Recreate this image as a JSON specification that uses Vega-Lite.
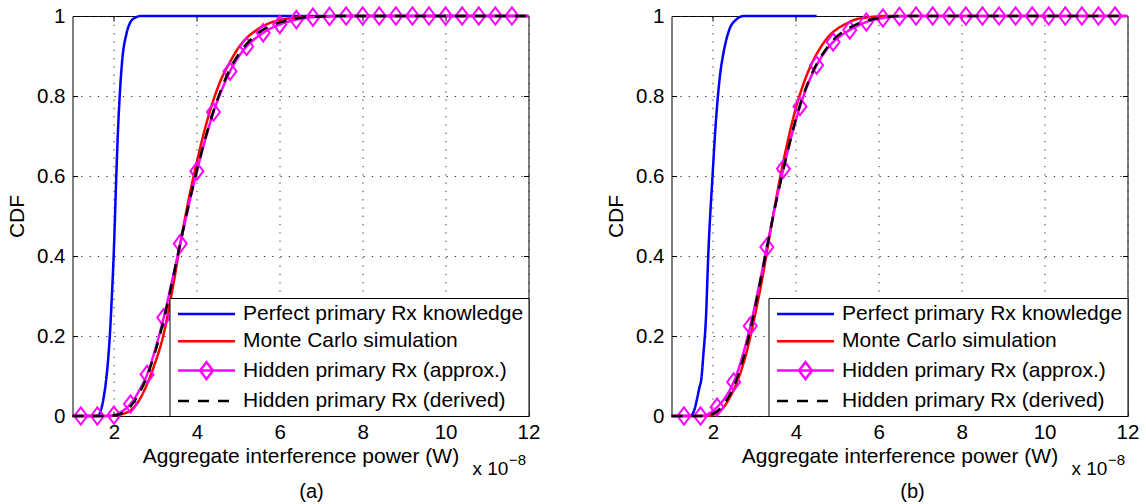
{
"$schema": "https://vega.github.io/schema/vega-lite/v6.json",
"background": "white",
"padding": {"left": 5.5, "top": 2, "right": 0, "bottom": 0},
"bounds": "flush",
"spacing": 143,
"resolve": {"scale": {"color": "independent", "strokeDash": "independent"}, "legend": {"color": "independent", "strokeDash": "independent"}},
"config": {
  "view": {"stroke": "black", "strokeWidth": 1},
  "font": "Liberation Sans",
  "axis": {"labelFont": "Liberation Sans", "labelFontSize": 20.5, "labelColor": "#000", "titleFont": "Liberation Sans", "titleFontSize": 21, "titleFontWeight": "normal", "titleColor": "#000", "tickColor": "#000", "tickWidth": 1, "domain": false, "gridColor": "#333", "gridDash": [1.3, 7], "gridWidth": 1, "gridOpacity": 1, "labelFlush": false, "labelOverlap": false},
  "legend": {"orient": "bottom-right", "offset": 0, "padding": 4.5, "strokeColor": "black", "fillColor": "white", "labelFont": "Liberation Sans", "labelFontSize": 21, "labelColor": "#000", "labelLimit": 500, "labelOffset": 46, "symbolSize": 400, "symbolStrokeWidth": 2.5, "symbolType": "M-0.75,0L4.95,0", "rowPadding": 5.3},
  "title": {"font": "Liberation Sans", "fontSize": 20, "fontWeight": "normal", "color": "#000"}
},
"datasets": {
  "a": [
    {"s":"Perfect primary Rx knowledge","x":1.0,"y":0},{"s":"Perfect primary Rx knowledge","x":1.6,"y":0},{"s":"Perfect primary Rx knowledge","x":1.65,"y":0.005},{"s":"Perfect primary Rx knowledge","x":1.7,"y":0.02},{"s":"Perfect primary Rx knowledge","x":1.75,"y":0.045},{"s":"Perfect primary Rx knowledge","x":1.8,"y":0.08},{"s":"Perfect primary Rx knowledge","x":1.85,"y":0.13},{"s":"Perfect primary Rx knowledge","x":1.9,"y":0.2},{"s":"Perfect primary Rx knowledge","x":1.95,"y":0.3},{"s":"Perfect primary Rx knowledge","x":2.0,"y":0.42},{"s":"Perfect primary Rx knowledge","x":2.05,"y":0.58},{"s":"Perfect primary Rx knowledge","x":2.1,"y":0.72},{"s":"Perfect primary Rx knowledge","x":2.15,"y":0.82},{"s":"Perfect primary Rx knowledge","x":2.2,"y":0.89},{"s":"Perfect primary Rx knowledge","x":2.3,"y":0.955},{"s":"Perfect primary Rx knowledge","x":2.4,"y":0.985},{"s":"Perfect primary Rx knowledge","x":2.5,"y":0.995},{"s":"Perfect primary Rx knowledge","x":2.65,"y":1.0},{"s":"Perfect primary Rx knowledge","x":12,"y":1.0},
    {"s":"Monte Carlo simulation","x":1.0,"y":0},{"s":"Monte Carlo simulation","x":1.9,"y":0},{"s":"Monte Carlo simulation","x":2.0,"y":0.001},{"s":"Monte Carlo simulation","x":2.2,"y":0.005},{"s":"Monte Carlo simulation","x":2.4,"y":0.014},{"s":"Monte Carlo simulation","x":2.6,"y":0.038},{"s":"Monte Carlo simulation","x":2.8,"y":0.08},{"s":"Monte Carlo simulation","x":3.0,"y":0.135},{"s":"Monte Carlo simulation","x":3.2,"y":0.205},{"s":"Monte Carlo simulation","x":3.4,"y":0.31},{"s":"Monte Carlo simulation","x":3.6,"y":0.43},{"s":"Monte Carlo simulation","x":3.8,"y":0.54},{"s":"Monte Carlo simulation","x":4.0,"y":0.635},{"s":"Monte Carlo simulation","x":4.2,"y":0.72},{"s":"Monte Carlo simulation","x":4.4,"y":0.79},{"s":"Monte Carlo simulation","x":4.6,"y":0.845},{"s":"Monte Carlo simulation","x":4.8,"y":0.885},{"s":"Monte Carlo simulation","x":5.0,"y":0.92},{"s":"Monte Carlo simulation","x":5.2,"y":0.945},{"s":"Monte Carlo simulation","x":5.4,"y":0.962},{"s":"Monte Carlo simulation","x":5.6,"y":0.975},{"s":"Monte Carlo simulation","x":5.8,"y":0.984},{"s":"Monte Carlo simulation","x":6.0,"y":0.99},{"s":"Monte Carlo simulation","x":6.4,"y":0.996},{"s":"Monte Carlo simulation","x":7.0,"y":0.999},{"s":"Monte Carlo simulation","x":7.5,"y":1.0},{"s":"Monte Carlo simulation","x":12,"y":1.0},
    {"s":"Hidden primary Rx (approx.)","x":1.0,"y":0},{"s":"Hidden primary Rx (approx.)","x":1.2,"y":0},{"s":"Hidden primary Rx (approx.)","x":1.6,"y":0},{"s":"Hidden primary Rx (approx.)","x":1.8,"y":0},{"s":"Hidden primary Rx (approx.)","x":2.0,"y":0.002},{"s":"Hidden primary Rx (approx.)","x":2.2,"y":0.012},{"s":"Hidden primary Rx (approx.)","x":2.4,"y":0.03},{"s":"Hidden primary Rx (approx.)","x":2.6,"y":0.062},{"s":"Hidden primary Rx (approx.)","x":2.8,"y":0.104},{"s":"Hidden primary Rx (approx.)","x":3.0,"y":0.168},{"s":"Hidden primary Rx (approx.)","x":3.2,"y":0.246},{"s":"Hidden primary Rx (approx.)","x":3.4,"y":0.337},{"s":"Hidden primary Rx (approx.)","x":3.6,"y":0.431},{"s":"Hidden primary Rx (approx.)","x":3.8,"y":0.525},{"s":"Hidden primary Rx (approx.)","x":4.0,"y":0.612},{"s":"Hidden primary Rx (approx.)","x":4.2,"y":0.69},{"s":"Hidden primary Rx (approx.)","x":4.4,"y":0.76},{"s":"Hidden primary Rx (approx.)","x":4.6,"y":0.815},{"s":"Hidden primary Rx (approx.)","x":4.8,"y":0.862},{"s":"Hidden primary Rx (approx.)","x":5.0,"y":0.897},{"s":"Hidden primary Rx (approx.)","x":5.2,"y":0.924},{"s":"Hidden primary Rx (approx.)","x":5.4,"y":0.943},{"s":"Hidden primary Rx (approx.)","x":5.6,"y":0.958},{"s":"Hidden primary Rx (approx.)","x":5.8,"y":0.97},{"s":"Hidden primary Rx (approx.)","x":6.0,"y":0.979},{"s":"Hidden primary Rx (approx.)","x":6.4,"y":0.991},{"s":"Hidden primary Rx (approx.)","x":6.8,"y":0.997},{"s":"Hidden primary Rx (approx.)","x":7.2,"y":0.999},{"s":"Hidden primary Rx (approx.)","x":7.6,"y":1.0},{"s":"Hidden primary Rx (approx.)","x":12,"y":1.0},
    {"s":"Hidden primary Rx (derived)","x":1.0,"y":0},{"s":"Hidden primary Rx (derived)","x":1.9,"y":0},{"s":"Hidden primary Rx (derived)","x":2.0,"y":0.001},{"s":"Hidden primary Rx (derived)","x":2.2,"y":0.008},{"s":"Hidden primary Rx (derived)","x":2.4,"y":0.024},{"s":"Hidden primary Rx (derived)","x":2.6,"y":0.055},{"s":"Hidden primary Rx (derived)","x":2.8,"y":0.1},{"s":"Hidden primary Rx (derived)","x":3.0,"y":0.162},{"s":"Hidden primary Rx (derived)","x":3.2,"y":0.24},{"s":"Hidden primary Rx (derived)","x":3.4,"y":0.333},{"s":"Hidden primary Rx (derived)","x":3.6,"y":0.432},{"s":"Hidden primary Rx (derived)","x":3.8,"y":0.527},{"s":"Hidden primary Rx (derived)","x":4.0,"y":0.614},{"s":"Hidden primary Rx (derived)","x":4.2,"y":0.693},{"s":"Hidden primary Rx (derived)","x":4.4,"y":0.762},{"s":"Hidden primary Rx (derived)","x":4.6,"y":0.82},{"s":"Hidden primary Rx (derived)","x":4.8,"y":0.868},{"s":"Hidden primary Rx (derived)","x":5.0,"y":0.903},{"s":"Hidden primary Rx (derived)","x":5.2,"y":0.93},{"s":"Hidden primary Rx (derived)","x":5.4,"y":0.95},{"s":"Hidden primary Rx (derived)","x":5.6,"y":0.966},{"s":"Hidden primary Rx (derived)","x":5.8,"y":0.976},{"s":"Hidden primary Rx (derived)","x":6.0,"y":0.984},{"s":"Hidden primary Rx (derived)","x":6.4,"y":0.994},{"s":"Hidden primary Rx (derived)","x":6.8,"y":0.998},{"s":"Hidden primary Rx (derived)","x":7.4,"y":1.0},{"s":"Hidden primary Rx (derived)","x":12,"y":1.0}
  ],
  "am": [
    {"x":1.2,"y":0},{"x":1.6,"y":0},{"x":2.0,"y":0.002},{"x":2.4,"y":0.03},{"x":2.8,"y":0.104},{"x":3.2,"y":0.246},{"x":3.6,"y":0.431},{"x":4.0,"y":0.612},{"x":4.4,"y":0.76},{"x":4.8,"y":0.862},{"x":5.2,"y":0.924},{"x":5.6,"y":0.958},{"x":6.0,"y":0.979},{"x":6.4,"y":0.991},{"x":6.8,"y":0.997},{"x":7.2,"y":0.999},{"x":7.6,"y":1},{"x":8.0,"y":1},{"x":8.4,"y":1},{"x":8.8,"y":1},{"x":9.2,"y":1},{"x":9.6,"y":1},{"x":10.0,"y":1},{"x":10.4,"y":1},{"x":10.8,"y":1},{"x":11.2,"y":1},{"x":11.6,"y":1}
  ],
  "b": [
    {"s":"Perfect primary Rx knowledge","x":1.0,"y":0},{"s":"Perfect primary Rx knowledge","x":1.45,"y":0},{"s":"Perfect primary Rx knowledge","x":1.55,"y":0.015},{"s":"Perfect primary Rx knowledge","x":1.61,"y":0.04},{"s":"Perfect primary Rx knowledge","x":1.67,"y":0.07},{"s":"Perfect primary Rx knowledge","x":1.72,"y":0.093},{"s":"Perfect primary Rx knowledge","x":1.77,"y":0.155},{"s":"Perfect primary Rx knowledge","x":1.83,"y":0.243},{"s":"Perfect primary Rx knowledge","x":1.89,"y":0.41},{"s":"Perfect primary Rx knowledge","x":1.99,"y":0.6},{"s":"Perfect primary Rx knowledge","x":2.06,"y":0.72},{"s":"Perfect primary Rx knowledge","x":2.12,"y":0.8},{"s":"Perfect primary Rx knowledge","x":2.18,"y":0.86},{"s":"Perfect primary Rx knowledge","x":2.24,"y":0.9},{"s":"Perfect primary Rx knowledge","x":2.32,"y":0.94},{"s":"Perfect primary Rx knowledge","x":2.41,"y":0.97},{"s":"Perfect primary Rx knowledge","x":2.55,"y":0.99},{"s":"Perfect primary Rx knowledge","x":2.74,"y":1.0},{"s":"Perfect primary Rx knowledge","x":4.5,"y":1.0},
    {"s":"Monte Carlo simulation","x":1.0,"y":0},{"s":"Monte Carlo simulation","x":1.8,"y":0},{"s":"Monte Carlo simulation","x":2.0,"y":0.003},{"s":"Monte Carlo simulation","x":2.2,"y":0.015},{"s":"Monte Carlo simulation","x":2.4,"y":0.045},{"s":"Monte Carlo simulation","x":2.6,"y":0.09},{"s":"Monte Carlo simulation","x":2.8,"y":0.155},{"s":"Monte Carlo simulation","x":3.0,"y":0.245},{"s":"Monte Carlo simulation","x":3.2,"y":0.35},{"s":"Monte Carlo simulation","x":3.4,"y":0.47},{"s":"Monte Carlo simulation","x":3.6,"y":0.585},{"s":"Monte Carlo simulation","x":3.8,"y":0.685},{"s":"Monte Carlo simulation","x":4.0,"y":0.77},{"s":"Monte Carlo simulation","x":4.2,"y":0.835},{"s":"Monte Carlo simulation","x":4.4,"y":0.885},{"s":"Monte Carlo simulation","x":4.6,"y":0.922},{"s":"Monte Carlo simulation","x":4.8,"y":0.95},{"s":"Monte Carlo simulation","x":5.0,"y":0.968},{"s":"Monte Carlo simulation","x":5.2,"y":0.98},{"s":"Monte Carlo simulation","x":5.4,"y":0.99},{"s":"Monte Carlo simulation","x":5.7,"y":0.996},{"s":"Monte Carlo simulation","x":6.2,"y":1.0},{"s":"Monte Carlo simulation","x":12,"y":1.0},
    {"s":"Hidden primary Rx (approx.)","x":1.0,"y":0},{"s":"Hidden primary Rx (approx.)","x":1.3,"y":0},{"s":"Hidden primary Rx (approx.)","x":1.7,"y":0},{"s":"Hidden primary Rx (approx.)","x":1.9,"y":0.006},{"s":"Hidden primary Rx (approx.)","x":2.1,"y":0.022},{"s":"Hidden primary Rx (approx.)","x":2.3,"y":0.047},{"s":"Hidden primary Rx (approx.)","x":2.5,"y":0.085},{"s":"Hidden primary Rx (approx.)","x":2.7,"y":0.145},{"s":"Hidden primary Rx (approx.)","x":2.9,"y":0.225},{"s":"Hidden primary Rx (approx.)","x":3.1,"y":0.32},{"s":"Hidden primary Rx (approx.)","x":3.3,"y":0.4225},{"s":"Hidden primary Rx (approx.)","x":3.5,"y":0.525},{"s":"Hidden primary Rx (approx.)","x":3.7,"y":0.618},{"s":"Hidden primary Rx (approx.)","x":3.9,"y":0.702},{"s":"Hidden primary Rx (approx.)","x":4.1,"y":0.774},{"s":"Hidden primary Rx (approx.)","x":4.3,"y":0.832},{"s":"Hidden primary Rx (approx.)","x":4.5,"y":0.877},{"s":"Hidden primary Rx (approx.)","x":4.7,"y":0.91},{"s":"Hidden primary Rx (approx.)","x":4.9,"y":0.935},{"s":"Hidden primary Rx (approx.)","x":5.1,"y":0.952},{"s":"Hidden primary Rx (approx.)","x":5.3,"y":0.965},{"s":"Hidden primary Rx (approx.)","x":5.5,"y":0.976},{"s":"Hidden primary Rx (approx.)","x":5.7,"y":0.985},{"s":"Hidden primary Rx (approx.)","x":6.1,"y":0.995},{"s":"Hidden primary Rx (approx.)","x":6.5,"y":0.999},{"s":"Hidden primary Rx (approx.)","x":6.9,"y":1.0},{"s":"Hidden primary Rx (approx.)","x":12,"y":1.0},
    {"s":"Hidden primary Rx (derived)","x":1.0,"y":0},{"s":"Hidden primary Rx (derived)","x":1.8,"y":0},{"s":"Hidden primary Rx (derived)","x":1.9,"y":0.002},{"s":"Hidden primary Rx (derived)","x":2.1,"y":0.012},{"s":"Hidden primary Rx (derived)","x":2.3,"y":0.035},{"s":"Hidden primary Rx (derived)","x":2.5,"y":0.072},{"s":"Hidden primary Rx (derived)","x":2.7,"y":0.133},{"s":"Hidden primary Rx (derived)","x":2.9,"y":0.215},{"s":"Hidden primary Rx (derived)","x":3.1,"y":0.315},{"s":"Hidden primary Rx (derived)","x":3.3,"y":0.42},{"s":"Hidden primary Rx (derived)","x":3.5,"y":0.523},{"s":"Hidden primary Rx (derived)","x":3.7,"y":0.617},{"s":"Hidden primary Rx (derived)","x":3.9,"y":0.703},{"s":"Hidden primary Rx (derived)","x":4.1,"y":0.778},{"s":"Hidden primary Rx (derived)","x":4.3,"y":0.835},{"s":"Hidden primary Rx (derived)","x":4.5,"y":0.88},{"s":"Hidden primary Rx (derived)","x":4.7,"y":0.913},{"s":"Hidden primary Rx (derived)","x":4.9,"y":0.94},{"s":"Hidden primary Rx (derived)","x":5.1,"y":0.958},{"s":"Hidden primary Rx (derived)","x":5.3,"y":0.971},{"s":"Hidden primary Rx (derived)","x":5.5,"y":0.981},{"s":"Hidden primary Rx (derived)","x":5.7,"y":0.988},{"s":"Hidden primary Rx (derived)","x":6.1,"y":0.996},{"s":"Hidden primary Rx (derived)","x":6.6,"y":1.0},{"s":"Hidden primary Rx (derived)","x":12,"y":1.0}
  ],
  "bm": [
    {"x":1.3,"y":0},{"x":1.7,"y":0},{"x":2.1,"y":0.022},{"x":2.5,"y":0.085},{"x":2.9,"y":0.225},{"x":3.3,"y":0.4225},{"x":3.7,"y":0.618},{"x":4.1,"y":0.774},{"x":4.5,"y":0.877},{"x":4.9,"y":0.935},{"x":5.3,"y":0.965},{"x":5.7,"y":0.985},{"x":6.1,"y":0.995},{"x":6.5,"y":0.999},{"x":6.9,"y":1},{"x":7.3,"y":1},{"x":7.7,"y":1},{"x":8.1,"y":1},{"x":8.5,"y":1},{"x":8.9,"y":1},{"x":9.3,"y":1},{"x":9.7,"y":1},{"x":10.1,"y":1},{"x":10.5,"y":1},{"x":10.9,"y":1},{"x":11.3,"y":1},{"x":11.7,"y":1}
  ]
},
"hconcat": [
  {
    "width": 456, "height": 400,
    "title": {"text": "(a)", "orient": "bottom", "anchor": "middle", "frame": "group", "dx": 11, "offset": 4},
    "resolve": {"axis": {"x": "independent", "y": "independent"}},
    "layer": [
      {"data": {"name": "a"}, "transform": [{"filter": "datum.s === 'Perfect primary Rx knowledge'"}],
       "mark": {"type": "line", "strokeWidth": 2.5, "interpolate": "monotone"},
       "encoding": {
         "x": {"field": "x", "type": "quantitative", "scale": {"domain": [1, 12], "nice": false, "zero": false}, "axis": {"orient": "bottom", "values": [2,4,6,8,10,12], "format": "~g", "grid": true, "tickSize": -5, "labelPadding": 11, "title": "Aggregate interference power (W)", "titleX": 228, "titleY": 46, "titleBaseline": "alphabetic", "titleAlign": "center"}},
         "y": {"field": "y", "type": "quantitative", "scale": {"domain": [0, 1], "nice": false, "zero": false}, "axis": {"orient": "left", "values": [0,0.2,0.4,0.6,0.8,1], "format": "~g", "grid": true, "tickSize": -5, "labelPadding": 12.5, "title": "CDF", "titleX": -49.5, "titleY": 200, "titleBaseline": "alphabetic", "titleAngle": 270, "titleAlign": "center"}},
         "color": {"field": "s", "type": "nominal", "scale": {"domain": ["Perfect primary Rx knowledge","Monte Carlo simulation","Hidden primary Rx (approx.)","Hidden primary Rx (derived)"], "range": ["#0000ff","#ff0000","#ff00ff","#000000"]}, "legend": {"title": null, "encode": {"symbols": {"update": {"fill": {"value": "transparent"}, "shape": {"signal": "datum.value === 'Hidden primary Rx (approx.)' ? 'M-0.75,0L4.95,0M2.1,-0.85L2.75,0L2.1,0.85L1.45,0Z' : 'M-0.75,0L4.95,0'"}}}}}},
         "strokeDash": {"field": "s", "type": "nominal", "scale": {"domain": ["Perfect primary Rx knowledge","Monte Carlo simulation","Hidden primary Rx (approx.)","Hidden primary Rx (derived)"], "range": [[1,0],[1,0],[1,0],[11,9]]}, "legend": {"title": null, "encode": {"symbols": {"update": {"fill": {"value": "transparent"}, "shape": {"signal": "datum.value === 'Hidden primary Rx (approx.)' ? 'M-0.75,0L4.95,0M2.1,-0.85L2.75,0L2.1,0.85L1.45,0Z' : 'M-0.75,0L4.95,0'"}}}}}}
       }},
      {"data": {"name": "a"}, "transform": [{"filter": "datum.s === 'Monte Carlo simulation'"}],
       "mark": {"type": "line", "strokeWidth": 2.5, "interpolate": "monotone"},
       "encoding": {
         "x": {"field": "x", "type": "quantitative", "axis": null},
         "y": {"field": "y", "type": "quantitative", "axis": null},
         "color": {"field": "s", "type": "nominal"},
         "strokeDash": {"field": "s", "type": "nominal"}
       }},
      {"data": {"name": "a"}, "transform": [{"filter": "datum.s === 'Hidden primary Rx (approx.)'"}],
       "mark": {"type": "line", "strokeWidth": 2.5, "interpolate": "monotone"},
       "encoding": {
         "x": {"field": "x", "type": "quantitative", "axis": null},
         "y": {"field": "y", "type": "quantitative", "axis": null},
         "color": {"field": "s", "type": "nominal"},
         "strokeDash": {"field": "s", "type": "nominal"}
       }},
      {"data": {"name": "am"},
       "mark": {"type": "point", "shape": "M0,-1L0.75,0L0,1L-0.75,0Z", "size": 300, "filled": false, "strokeWidth": 2, "color": "#ff00ff", "opacity": 1},
       "encoding": {
         "x": {"field": "x", "type": "quantitative", "axis": {"orient": "top", "values": [2,4,6,8,10], "labels": false, "grid": false, "tickSize": -5, "title": "x 10", "titleX": 399.5, "titleY": 458, "titleAlign": "left", "titleBaseline": "alphabetic", "titleAngle": 0, "titleFontSize": 19}},
         "y": {"field": "y", "type": "quantitative", "axis": {"orient": "right", "values": [0.2,0.4,0.6,0.8], "labels": false, "grid": false, "tickSize": -5, "title": "−8", "titleX": -20, "titleY": 448, "titleAlign": "left", "titleBaseline": "alphabetic", "titleAngle": 0, "titleFontSize": 15}}
       }},
      {"data": {"name": "a"}, "transform": [{"filter": "datum.s === 'Hidden primary Rx (derived)'"}],
       "mark": {"type": "line", "strokeWidth": 2.5, "interpolate": "monotone"},
       "encoding": {
         "x": {"field": "x", "type": "quantitative", "axis": null},
         "y": {"field": "y", "type": "quantitative", "axis": null},
         "color": {"field": "s", "type": "nominal"},
         "strokeDash": {"field": "s", "type": "nominal"}
       }}
    ]
  },
  {
    "width": 456, "height": 400,
    "title": {"text": "(b)", "orient": "bottom", "anchor": "middle", "frame": "group", "dx": 13, "offset": 4},
    "resolve": {"axis": {"x": "independent", "y": "independent"}},
    "layer": [
      {"data": {"name": "b"}, "transform": [{"filter": "datum.s === 'Perfect primary Rx knowledge'"}],
       "mark": {"type": "line", "strokeWidth": 2.5, "interpolate": "monotone"},
       "encoding": {
         "x": {"field": "x", "type": "quantitative", "scale": {"domain": [1, 12], "nice": false, "zero": false}, "axis": {"orient": "bottom", "values": [2,4,6,8,10,12], "format": "~g", "grid": true, "tickSize": -5, "labelPadding": 11, "title": "Aggregate interference power (W)", "titleX": 228, "titleY": 46, "titleBaseline": "alphabetic", "titleAlign": "center"}},
         "y": {"field": "y", "type": "quantitative", "scale": {"domain": [0, 1], "nice": false, "zero": false}, "axis": {"orient": "left", "values": [0,0.2,0.4,0.6,0.8,1], "format": "~g", "grid": true, "tickSize": -5, "labelPadding": 12.5, "title": "CDF", "titleX": -49.5, "titleY": 200, "titleBaseline": "alphabetic", "titleAngle": 270, "titleAlign": "center"}},
         "color": {"field": "s", "type": "nominal", "scale": {"domain": ["Perfect primary Rx knowledge","Monte Carlo simulation","Hidden primary Rx (approx.)","Hidden primary Rx (derived)"], "range": ["#0000ff","#ff0000","#ff00ff","#000000"]}, "legend": {"title": null, "encode": {"symbols": {"update": {"fill": {"value": "transparent"}, "shape": {"signal": "datum.value === 'Hidden primary Rx (approx.)' ? 'M-0.75,0L4.95,0M2.1,-0.85L2.75,0L2.1,0.85L1.45,0Z' : 'M-0.75,0L4.95,0'"}}}}}},
         "strokeDash": {"field": "s", "type": "nominal", "scale": {"domain": ["Perfect primary Rx knowledge","Monte Carlo simulation","Hidden primary Rx (approx.)","Hidden primary Rx (derived)"], "range": [[1,0],[1,0],[1,0],[11,9]]}, "legend": {"title": null, "encode": {"symbols": {"update": {"fill": {"value": "transparent"}, "shape": {"signal": "datum.value === 'Hidden primary Rx (approx.)' ? 'M-0.75,0L4.95,0M2.1,-0.85L2.75,0L2.1,0.85L1.45,0Z' : 'M-0.75,0L4.95,0'"}}}}}}
       }},
      {"data": {"name": "b"}, "transform": [{"filter": "datum.s === 'Monte Carlo simulation'"}],
       "mark": {"type": "line", "strokeWidth": 2.5, "interpolate": "monotone"},
       "encoding": {
         "x": {"field": "x", "type": "quantitative", "axis": null},
         "y": {"field": "y", "type": "quantitative", "axis": null},
         "color": {"field": "s", "type": "nominal"},
         "strokeDash": {"field": "s", "type": "nominal"}
       }},
      {"data": {"name": "b"}, "transform": [{"filter": "datum.s === 'Hidden primary Rx (approx.)'"}],
       "mark": {"type": "line", "strokeWidth": 2.5, "interpolate": "monotone"},
       "encoding": {
         "x": {"field": "x", "type": "quantitative", "axis": null},
         "y": {"field": "y", "type": "quantitative", "axis": null},
         "color": {"field": "s", "type": "nominal"},
         "strokeDash": {"field": "s", "type": "nominal"}
       }},
      {"data": {"name": "bm"},
       "mark": {"type": "point", "shape": "M0,-1L0.75,0L0,1L-0.75,0Z", "size": 300, "filled": false, "strokeWidth": 2, "color": "#ff00ff", "opacity": 1},
       "encoding": {
         "x": {"field": "x", "type": "quantitative", "axis": {"orient": "top", "values": [2,4,6,8,10], "labels": false, "grid": false, "tickSize": -5, "title": "x 10", "titleX": 399.5, "titleY": 458, "titleAlign": "left", "titleBaseline": "alphabetic", "titleAngle": 0, "titleFontSize": 19}},
         "y": {"field": "y", "type": "quantitative", "axis": {"orient": "right", "values": [0.2,0.4,0.6,0.8], "labels": false, "grid": false, "tickSize": -5, "title": "−8", "titleX": -20, "titleY": 448, "titleAlign": "left", "titleBaseline": "alphabetic", "titleAngle": 0, "titleFontSize": 15}}
       }},
      {"data": {"name": "b"}, "transform": [{"filter": "datum.s === 'Hidden primary Rx (derived)'"}],
       "mark": {"type": "line", "strokeWidth": 2.5, "interpolate": "monotone"},
       "encoding": {
         "x": {"field": "x", "type": "quantitative", "axis": null},
         "y": {"field": "y", "type": "quantitative", "axis": null},
         "color": {"field": "s", "type": "nominal"},
         "strokeDash": {"field": "s", "type": "nominal"}
       }}
    ]
  }
]
}
